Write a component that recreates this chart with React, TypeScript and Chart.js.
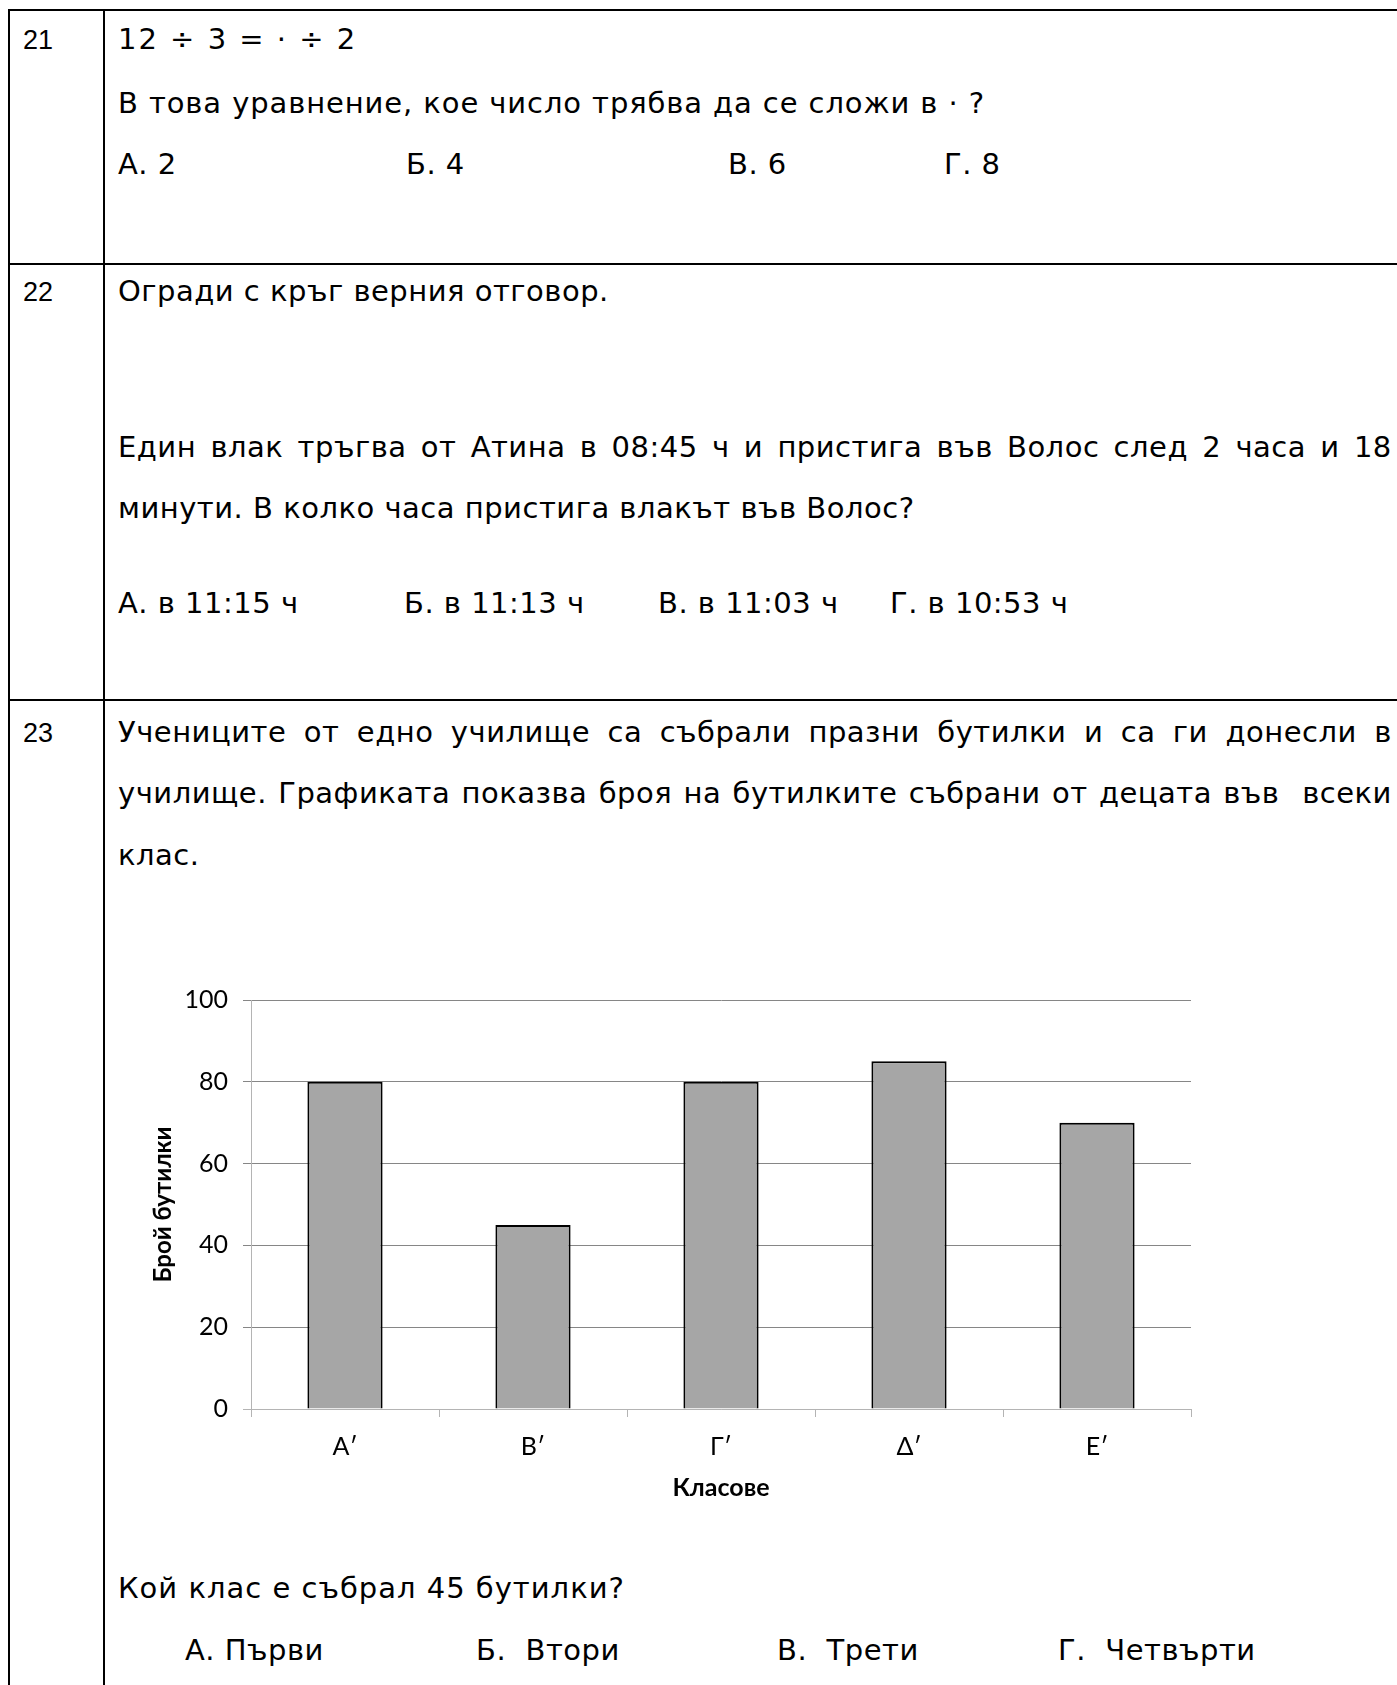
import React, { useEffect, useRef } from 'react';
import { Chart, registerables } from 'chart.js';

Chart.register(...registerables);

// ---- chart data ----
const categories = ['Α′', 'Β′', 'Γ′', 'Δ′', 'Ε′'];
const bottleCounts = [80, 45, 80, 85, 70];
const yMin = 0;
const yMax = 100;
const yStep = 20;
const yAxisTitle = 'Брой бутилки';
const xAxisTitle = 'Класове';

// ---- page texts ----
const q21Lines = ['12 ÷ 3 = · ÷ 2', 'В това уравнение, кое число трябва да се сложи в · ?'];
const q21Options = ['А. 2', 'Б. 4', 'В. 6', 'Г. 8'];
const q22Lines = [
  'Огради с кръг верния отговор.',
  'Един влак тръгва от Атина в 08:45 ч и пристига във Волос след 2 часа и 18',
  'минути. В колко часа пристига влакът във Волос?',
];
const q22Options = ['А. в 11:15 ч', 'Б. в 11:13 ч', 'В. в 11:03 ч', 'Г. в 10:53 ч'];
const q23Lines = [
  'Учениците от едно училище са събрали празни бутилки и са ги донесли в',
  'училище. Графиката показва броя на бутилките събрани от децата във  всеки',
  'клас.',
];
const q23Question = 'Кой клас е събрал 45 бутилки?';
const q23Options = ['А. Първи', 'Б.  Втори', 'В.  Трети', 'Г.  Четвърти'];

const BODY_FONT = "'DejaVu Sans', Verdana, sans-serif";
const NUM_FONT = "'Liberation Sans', Arial, sans-serif";
const CHART_FONT = "Lato, 'Open Sans', sans-serif";

const BODY_SIZE = 29;
const BODY_LS = 0.5;
const LH = 44;

function lineTop(b: number, size: number, num?: boolean) {
  const asc = num ? 0.905 : 0.928;
  const desc = num ? 0.212 : 0.236;
  return b - ((LH - (asc + desc) * size) / 2 + asc * size);
}

type TProps = {
  x: number;
  b: number;
  num?: boolean;
  size?: number;
  ls?: number;
  children: React.ReactNode;
};

function T({ x, b, num, size = BODY_SIZE, ls = BODY_LS, children }: TProps) {
  return (
    <div
      style={{
        position: 'absolute',
        left: x,
        top: lineTop(b, size, num),
        height: LH,
        lineHeight: LH + 'px',
        fontFamily: num ? NUM_FONT : BODY_FONT,
        fontSize: size,
        letterSpacing: ls,
        whiteSpace: 'pre',
        color: '#000',
      }}
    >
      {children}
    </div>
  );
}

// justified line: words spread across the full width
function J({ x, b, w, text }: { x: number; b: number; w: number; text: string }) {
  const words = text.split(' ');
  return (
    <div
      style={{
        position: 'absolute',
        left: x,
        top: lineTop(b, BODY_SIZE),
        width: w,
        height: LH,
        lineHeight: LH + 'px',
        fontFamily: BODY_FONT,
        fontSize: BODY_SIZE,
        letterSpacing: BODY_LS,
        whiteSpace: 'pre',
        color: '#000',
        display: 'flex',
        justifyContent: 'space-between',
      }}
    >
      {words.map((wd, i) => (
        <span key={i}>{wd}</span>
      ))}
    </div>
  );
}

function Rule({ x, y, w, h }: { x: number; y: number; w: number; h: number }) {
  return <div style={{ position: 'absolute', left: x, top: y, width: w, height: h, background: '#000' }} />;
}

function BarChart() {
  const ref = useRef<HTMLCanvasElement>(null);
  useEffect(() => {
    const chart = new Chart(ref.current as HTMLCanvasElement, {
      type: 'bar',
      data: {
        labels: categories,
        datasets: [
          {
            data: bottleCounts,
            backgroundColor: '#a6a6a6',
            borderColor: '#000000',
            borderWidth: 2,
            categoryPercentage: 1,
            barPercentage: 0.4,
          },
        ],
      },
      options: {
        animation: false,
        responsive: false,
        devicePixelRatio: 1,
        layout: { padding: { left: 0, right: 19, top: 0, bottom: 0 } },
        plugins: { legend: { display: false }, tooltip: { enabled: false } },
        scales: {
          x: {
            grid: {
              offset: true,
              drawOnChartArea: false,
              drawTicks: true,
              tickLength: 8,
              color: '#b4b4b4',
              lineWidth: 1,
            },
            border: { display: true, color: '#b4b4b4', width: 1 },
            ticks: { font: { family: CHART_FONT, size: 25 }, color: '#000', padding: 15 },
            title: {
              display: true,
              text: xAxisTitle,
              font: { family: CHART_FONT, size: 25, weight: 'bold' },
              color: '#000',
              padding: { top: 0, bottom: 7 },
            },
            afterFit: (s: any) => {
              s.height = 101;
            },
          },
          y: {
            min: yMin,
            max: yMax,
            ticks: { stepSize: yStep, font: { family: CHART_FONT, size: 25 }, color: '#000', padding: 15 },
            grid: {
              color: (c: any) => (c.tick && c.tick.value === 0 ? '#b4b4b4' : '#868686'),
              lineWidth: 1,
              drawTicks: true,
              tickLength: 8,
            },
            border: { display: true, color: '#b4b4b4', width: 1 },
            title: {
              display: true,
              text: yAxisTitle,
              font: { family: CHART_FONT, size: 24, weight: 'bold' },
              color: '#000',
              padding: { top: 9, bottom: 0 },
            },
            afterFit: (s: any) => {
              s.width = 111;
            },
          },
        },
      } as any,
    });
    return () => chart.destroy();
  }, []);
  return (
    <canvas
      ref={ref}
      width={1070}
      height={540}
      style={{ position: 'absolute', left: 140, top: 970, width: 1070, height: 540 }}
    />
  );
}

export default function App() {
  const TW = 1274;
  return (
    <div
      style={{
        position: 'absolute',
        left: 0,
        top: 0,
        width: 1397,
        height: 1685,
        overflow: 'hidden',
        background: '#fff',
      }}
    >
      {/* table rules */}
      <Rule x={8} y={9} w={1400} h={2} />
      <Rule x={8} y={9} w={2} h={1700} />
      <Rule x={103} y={9} w={2} h={1700} />
      <Rule x={8} y={263} w={1400} h={2} />
      <Rule x={8} y={699} w={1400} h={2} />

      {/* row 21 */}
      <T x={23} b={49} num size={27} ls={0}>21</T>
      <T x={118} b={49} ls={2}>{q21Lines[0]}</T>
      <T x={118} b={113} ls={0.9}>{q21Lines[1]}</T>
      <T x={118} b={174}>{q21Options[0]}</T>
      <T x={406} b={174}>{q21Options[1]}</T>
      <T x={728} b={174}>{q21Options[2]}</T>
      <T x={944} b={174}>{q21Options[3]}</T>

      {/* row 22 */}
      <T x={23} b={301} num size={27} ls={0}>22</T>
      <T x={118} b={301}>{q22Lines[0]}</T>
      <J x={118} b={457} w={TW} text={q22Lines[1]} />
      <T x={118} b={518}>{q22Lines[2]}</T>
      <T x={118} b={613}>{q22Options[0]}</T>
      <T x={404} b={613}>{q22Options[1]}</T>
      <T x={658} b={613}>{q22Options[2]}</T>
      <T x={890} b={613}>{q22Options[3]}</T>

      {/* row 23 */}
      <T x={23} b={742} num size={27} ls={0}>23</T>
      <J x={118} b={742} w={TW} text={q23Lines[0]} />
      <J x={118} b={803} w={TW} text={q23Lines[1]} />
      <T x={118} b={865}>{q23Lines[2]}</T>

      <BarChart />

      <T x={118} b={1598} ls={1}>{q23Question}</T>
      <T x={185} b={1660}>{q23Options[0]}</T>
      <T x={476} b={1660}>{q23Options[1]}</T>
      <T x={777} b={1660}>{q23Options[2]}</T>
      <T x={1058} b={1660}>{q23Options[3]}</T>
    </div>
  );
}
